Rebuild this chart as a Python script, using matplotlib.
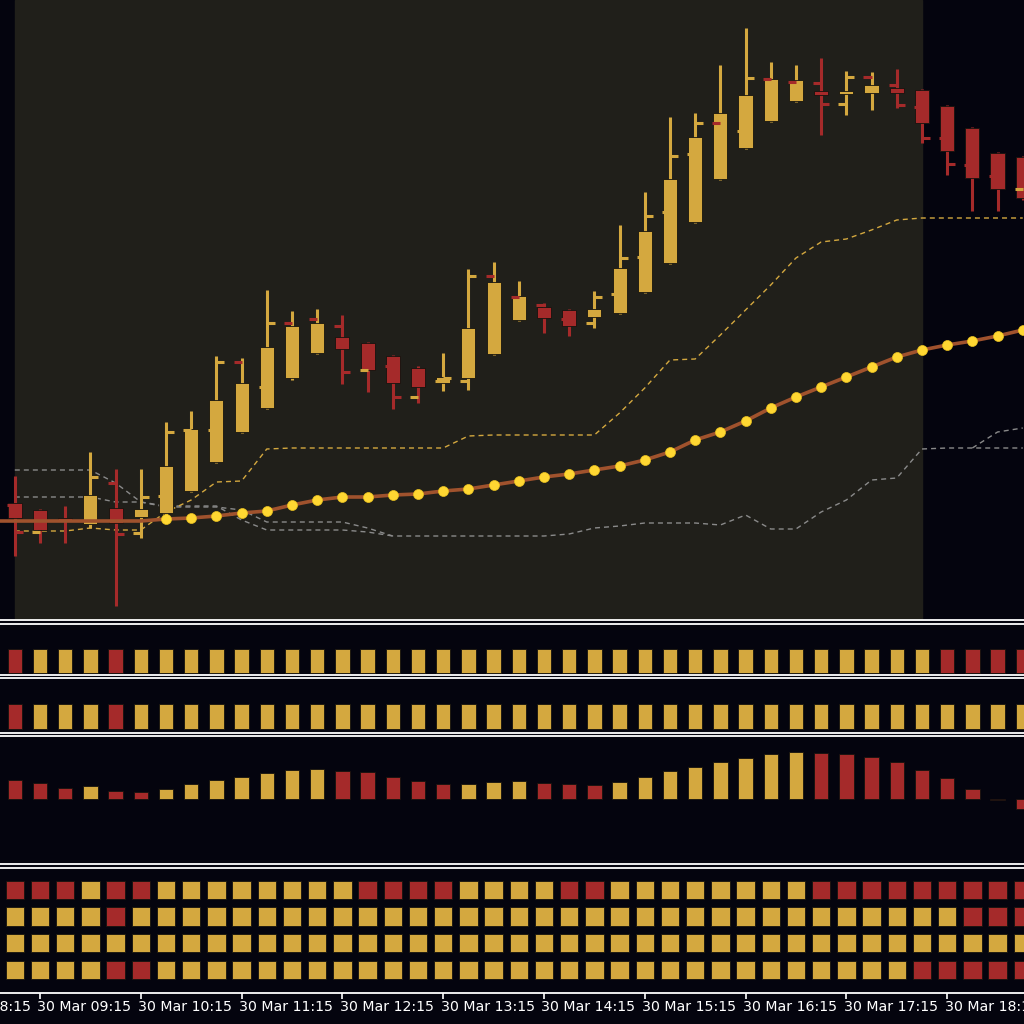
import numpy as np
import matplotlib.pyplot as plt

# 15 minute bars, 30 Mar from 09:00 (price in chart points)
opens  = [117, 110, 102, 96, 112, 103, 107, 129, 158, 188, 212, 242, 267, 283, 277, 264, 252, 237, 242, 266,
          300, 313, 310, 303, 307, 328, 357, 398, 441, 472, 499, 519, 529, 526, 527, 532, 530, 514, 492, 467, 463]
highs  = [144, 111, 114, 168, 151, 151, 198, 209, 264, 262, 330, 309, 311, 305, 278, 265, 254, 267, 351, 358,
          339, 317, 311, 329, 395, 428, 503, 507, 555, 592, 558, 555, 562, 549, 548, 551, 531, 515, 493, 468, 464]
lows   = [64, 77, 77, 92, 14, 82, 105, 128, 157, 187, 211, 240, 266, 236, 228, 211, 217, 229, 230, 265,
          299, 287, 284, 292, 306, 327, 356, 397, 440, 471, 498, 518, 485, 505, 510, 512, 477, 445, 409, 409, 420]
closes = [102, 90, 99, 125, 97, 111, 154, 191, 220, 237, 273, 294, 297, 271, 250, 237, 233, 243, 292, 338,
          324, 302, 294, 311, 352, 389, 441, 483, 507, 525, 541, 540, 525, 529, 535, 527, 497, 469, 442, 431, 422]

left_tick = [115, 88, None, None, 137, 87, 124, 190, 190, 258, 233, 297, 301, 294, 250, 254, 223, 239, 239, 344,
             323, 315, 301, 297, 326, 363, 408, 466, 497, 489, 541, 538, 537, 516, 543, 535, 513, 482, 455, 444, 431]
left_tick_col = "RY..RYYYYR" "YRRRYRYYYR" "RRRYYYYYRY" "RRRYRRRRRR" "Y"
right_tick = [88, None, None, 143, 86, 123, 188, None, 258, None, 297, None, None, 248, None, 223, None, 242, 344, None,
              None, None, None, 323, 362, 404, 464, 497, None, 542, None, None, 516, 543, None, 515, 482, 456, None, None, None]

ma = [99, 99, 99, 99, 99, 99, 101, 102, 104, 107, 109, 115, 120, 123, 123, 125, 126, 129, 131, 135,
      139, 143, 146, 150, 154, 160, 168, 180, 188, 199, 212, 223, 233, 243, 253, 263, 270, 275, 279, 284, 290]
first_dot = 6

band_upper = [89, 89, 89, 92, 90, 90, 108, 120, 138, 139, 171, 172, 172, 172, 172, 172, 172, 172, 184, 185,
              185, 185, 185, 185, 207, 232, 260, 261, 285, 310, 335, 362, 378, 381, 390, 400, 402, 402, 402, 402, 402]
band_gray_a = [150, 150, 150, 150, 137, 118, 113, 113, 113, 110, 98, 98, 98, 98, 92, 84, 84, 84, 84, 84,
               84, 84, 86, 92, 94, 97, 97, 97, 95, 105, 91, 91, 108, 120, 140, 142, 171, 172, 172, 172, 172]
band_gray_b = [123, 123, 123, 123, 118, 118, 114, 114, 114, 100, 90, 90, 90, 90, 88, 84] + [np.nan] * 25
band_gray_c = [np.nan] * 38 + [172, 188, 192]

panel1 = "RYYYRYYYYY" "YYYYYYYYYY" "YYYYYYYYYY" "YYYYYYYRRR" "R"
panel2 = "RYYYRYYYYY" "YYYYYYYYYY" "YYYYYYYYYY" "YYYYYYYYYY" "Y"
hist = [19, 16, 11, 13, 8, 7, 10, 15, 19, 22, 26, 29, 30, 28, 27, 22, 18, 15, 15, 17,
        18, 16, 15, 14, 17, 22, 28, 32, 37, 41, 45, 47, 46, 45, 42, 37, 29, 21, 10, -1, -10]
hist_col = "RRRYRRYYYY" "YYYRRRRRYY" "YRRRYYYYYY" "YYRRRRRRRR" "R"
grid_rows = [
    "RRRYRRYYYY" "YYYYRRRRYY" "YYRRYYYYYY" "YYRRRRRRRR" "R",
    "YYYYRYYYYY" "YYYYYYYYYY" "YYYYYYYYYY" "YYYYYYYYRR" "R",
    "YYYYYYYYYY" "YYYYYYYYYY" "YYYYYYYYYY" "YYYYYYYYYY" "Y",
    "YYYYRRYYYY" "YYYYYYYYYY" "YYYYYYYYYY" "YYYYYYRRRR" "R",
]

tick_idx = [-3, 1, 5, 9, 13, 17, 21, 25, 29, 33, 37]
tick_labels = ["30 Mar 08:15", "30 Mar 09:15", "30 Mar 10:15", "30 Mar 11:15", "30 Mar 12:15", "30 Mar 13:15",
               "30 Mar 14:15", "30 Mar 15:15", "30 Mar 16:15", "30 Mar 17:15", "30 Mar 18:15"]
session = (0, 36)

UP = '#d4a83f'
DN = '#a52a2a'
BG = '#04040e'
SESSION_BG = '#201f1a'
col = {'Y': UP, 'R': DN}

n = len(opens)
x = np.arange(n)
xlim = (-0.587, 40.05)

fig = plt.figure(figsize=(10.24, 10.24), dpi=100, facecolor=BG)


def add_panel(top, bottom):
    ax = fig.add_axes([0, 1 - bottom / 1024, 1, (bottom - top) / 1024])
    ax.set_facecolor(BG)
    ax.set_xlim(*xlim)
    for s in ['left', 'right']:
        ax.spines[s].set_visible(False)
    for s in ['top', 'bottom']:
        ax.spines[s].set_color('white')
        ax.spines[s].set_linewidth(1.3)
    ax.set_yticks([])
    ax.set_xticks([])
    return ax


# main price panel
ax = add_panel(0, 620)
ax.spines['top'].set_visible(False)
ax.set_ylim(0, 620)
ax.axvspan(session[0], session[1], color=SESSION_BG, zorder=0)

ax.plot(x, band_gray_a, color='#8a8a8a', lw=1, dashes=(3.6, 2.9), zorder=1)
ax.plot(x, band_gray_b, color='#8a8a8a', lw=1, dashes=(3.6, 2.9), zorder=1)
ax.plot(x, band_gray_c, color='#8a8a8a', lw=1, dashes=(3.6, 2.9), zorder=1)
ax.plot(x, band_upper, color=UP, lw=1, dashes=(3.6, 2.9), zorder=1)

for i in range(n):
    o, h, l, c = opens[i], highs[i], lows[i], closes[i]
    cc = UP if c >= o else DN
    ax.vlines(i, l, h, color=cc, lw=2.2, zorder=3)
    ax.bar(i, max(abs(c - o), 2.5), bottom=min(o, c), width=0.56, color=cc,
           edgecolor='#15130e', linewidth=0.6, zorder=4)
    if left_tick[i] is not None:
        ax.hlines(left_tick[i], i - 0.32, i, color=col[left_tick_col[i]], lw=2.2, zorder=4)
    if right_tick[i] is not None:
        ax.hlines(right_tick[i], i, i + 0.32, color=cc, lw=2.2, zorder=4)

# moving average runs in from the left edge of the window
ax.plot(np.r_[xlim[0], x], np.r_[ma[0], ma], color='#a0522d', lw=2.6, zorder=5)
ax.plot(x[first_dot:], ma[first_dot:], 'o', ms=7.2, color='#ffd732', mec='#e8c020', mew=0.5, zorder=6)

# indicator panel 1
ax1 = add_panel(623.5, 674.5)
ax1.set_ylim(674.5, 623.5)
ax1.bar(x, 24, bottom=649, width=0.57, color=[col[k] for k in panel1],
        edgecolor='#15130e', linewidth=0.6)

# indicator panel 2
ax2 = add_panel(678, 732.5)
ax2.set_ylim(732.5, 678)
ax2.bar(x, 25, bottom=704, width=0.57, color=[col[k] for k in panel2],
        edgecolor='#15130e', linewidth=0.6)

# histogram panel
ax3 = add_panel(735.5, 864)
ax3.set_ylim(-65.5, 63)
ax3.bar(x, hist, width=0.57, color=[col[k] for k in hist_col], edgecolor='#15130e', linewidth=0.6)

# four row signal grid
ax4 = add_panel(867.5, 993)
ax4.set_ylim(993, 867.5)
row_centers = [890, 916.5, 943, 970]
for row, yc in zip(grid_rows, row_centers):
    ax4.bar(x, 18.5, bottom=yc - 9.25, width=0.73, color=[col[k] for k in row],
            edgecolor='#15130e', linewidth=0.6)

ax4.set_xticks([t for t in tick_idx if xlim[0] <= t <= xlim[1]])
ax4.set_xticklabels([])
ax4.tick_params(axis='x', colors='white', direction='out', length=4, width=1.2)
tr = ax4.get_xaxis_transform()
for t, lab in zip(tick_idx, tick_labels):
    ax4.text(t - 0.1, -0.112, lab, transform=tr, color='white', fontsize=10.2,
             ha='left', va='center', clip_on=False)

fig.savefig('out.png', dpi=100, facecolor=BG)
